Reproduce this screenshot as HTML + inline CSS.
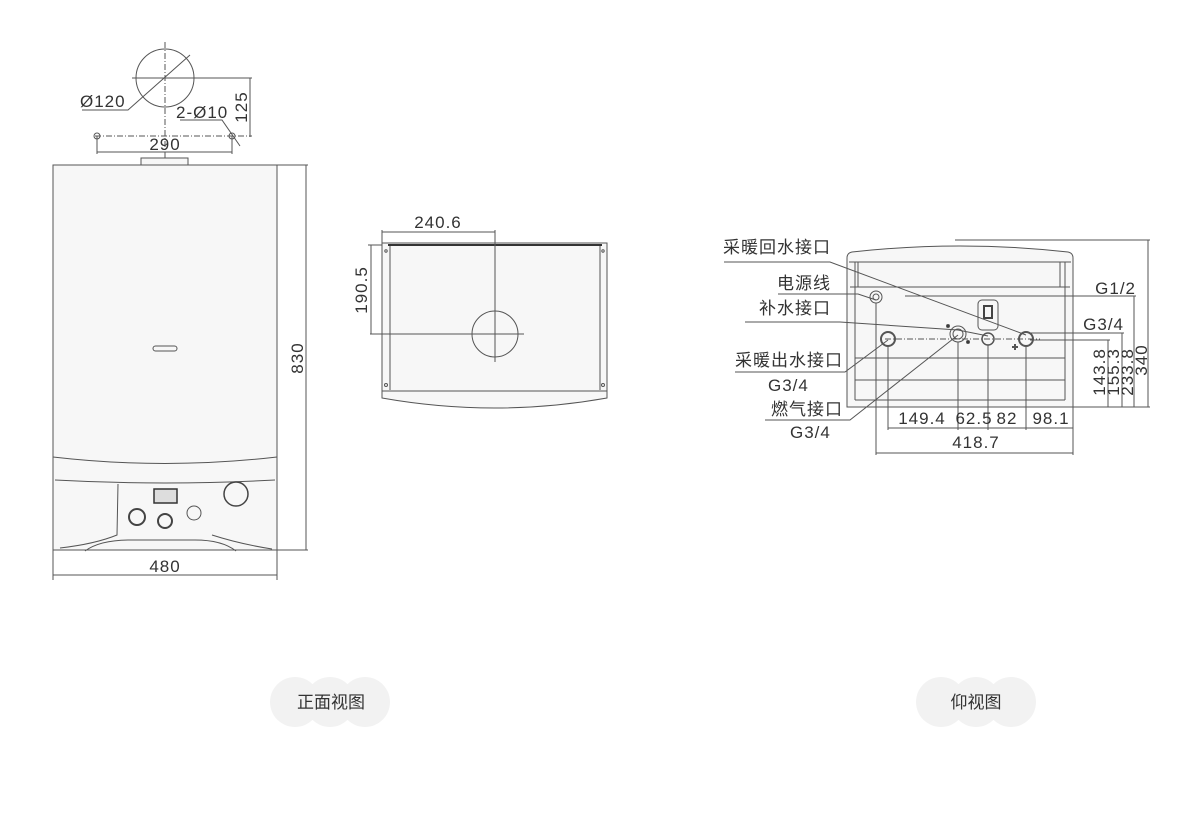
<!DOCTYPE html>
<html><head><meta charset="utf-8"><style>
html,body{margin:0;padding:0;background:#fff;}
svg{display:block}
text{font-family:"Liberation Sans","Noto Sans CJK SC",sans-serif;fill:#333;}
</style></head><body>
<svg width="1200" height="840" viewBox="0 0 1200 840" xmlns="http://www.w3.org/2000/svg">
<g stroke="#555" stroke-width="1" fill="none">
<circle cx="165" cy="78" r="29"/>
<line x1="165" y1="42" x2="165" y2="172" stroke-dasharray="6,2,1,2"/>
<line x1="132" y1="78" x2="252" y2="78"/>
<line x1="250" y1="78" x2="250" y2="137"/>
<line x1="95" y1="136" x2="252" y2="136" stroke-dasharray="6,2,1,2"/>
<circle cx="97" cy="136" r="3"/><circle cx="232" cy="136" r="3"/>
<line x1="97" y1="136" x2="97" y2="154"/><line x1="232" y1="136" x2="232" y2="154"/>
<line x1="97" y1="152" x2="232" y2="152"/>
<polyline points="82,110 128,110 190,55"/>
<polyline points="180,120 222,120 240,146"/>
<rect x="141" y="158" width="47" height="7" fill="#f7f7f7"/>
<rect x="53" y="165" width="224" height="385" fill="#f7f7f7"/>
<line x1="277" y1="165" x2="308" y2="165"/>
<line x1="277" y1="550" x2="308" y2="550"/>
<line x1="306" y1="165" x2="306" y2="550"/>
<rect x="153" y="346" width="24" height="5" rx="2.5"/>
<path d="M53,457 Q165,470 277,457"/>
<path d="M55,480 Q165,486 275,480"/>
<path d="M118,484 L117,535 Q95,544 60,548"/>
<path d="M212,535 Q240,544 272,549"/>
<path d="M85,551 Q100,540 130,540 L195,540 Q222,540 236,551"/>
<rect x="154" y="489" width="23" height="14" fill="#ddd" stroke="#333" stroke-width="1.5"/>
<circle cx="236" cy="494" r="12" stroke="#444" stroke-width="1.5"/>
<circle cx="137" cy="517" r="8" stroke="#444" stroke-width="2"/>
<circle cx="165" cy="521" r="7" stroke="#444" stroke-width="2"/>
<circle cx="194" cy="513" r="7"/>
<line x1="53" y1="550" x2="53" y2="580"/><line x1="277" y1="550" x2="277" y2="580"/>
<line x1="53" y1="575" x2="277" y2="575"/>
<rect x="382" y="243" width="225" height="148" fill="#f7f7f7"/>
<line x1="390" y1="245" x2="390" y2="390"/><line x1="600" y1="245" x2="600" y2="390"/>
<line x1="388" y1="245" x2="602" y2="245" stroke="#333" stroke-width="2"/>
<path d="M382,391 L382,398 Q495,418 607,398 L607,391 Z" fill="#f7f7f7"/>
<circle cx="495" cy="334" r="23"/>
<line x1="495" y1="230" x2="495" y2="362"/>
<line x1="370" y1="334" x2="524" y2="334"/>
<line x1="382" y1="230" x2="382" y2="243"/>
<line x1="382" y1="232" x2="495" y2="232"/>
<line x1="368" y1="245" x2="382" y2="245"/>
<line x1="371" y1="245" x2="371" y2="334"/>
<circle cx="386" cy="251" r="1.2"/><circle cx="603" cy="251" r="1.2"/>
<circle cx="386" cy="385" r="1.5"/><circle cx="603" cy="385" r="1.5"/>
<path d="M847,407 L847,258 Q847,253 852,252 Q960,240 1068,252 Q1073,253 1073,258 L1073,407 Z" fill="#f7f7f7"/>
<line x1="855" y1="262" x2="855" y2="400"/><line x1="1065" y1="262" x2="1065" y2="400"/>
<line x1="849" y1="262" x2="1071" y2="262"/>
<polyline points="858,262 858,287 1060,287 1060,262"/>
<line x1="850" y1="287" x2="858" y2="287"/><line x1="1060" y1="287" x2="1070" y2="287"/>
<line x1="855" y1="358" x2="1065" y2="358"/>
<line x1="855" y1="380" x2="1065" y2="380"/>
<line x1="855" y1="400" x2="1065" y2="400"/>
<rect x="978" y="300" width="20" height="30" rx="4"/>
<rect x="984" y="306" width="8" height="12" stroke="#444" stroke-width="2"/>
<line x1="885" y1="339" x2="1040" y2="339" stroke-dasharray="6,2,1,2"/>
<circle cx="876" cy="297" r="6"/><circle cx="876" cy="297" r="3"/>
<circle cx="888" cy="339" r="7" stroke-width="2"/>
<circle cx="958" cy="334" r="8"/><circle cx="958" cy="334" r="5"/>
<circle cx="988" cy="339" r="6" stroke-width="1.5"/>
<circle cx="1026" cy="339" r="7" stroke-width="2"/>
<path d="M1012,347 L1018,347 M1015,344 L1015,350" stroke-width="2"/>
<circle cx="948" cy="326" r="1.5" fill="#333"/><circle cx="968" cy="342" r="1.5" fill="#333"/>
<polyline points="724,262 830,262 1026,335"/>
<polyline points="778,294 858,294 876,300"/>
<polyline points="745,322 840,322 958,330 988,336"/>
<polyline points="735,372 845,372 888,340"/>
<polyline points="765,420 850,420 958,335"/>
<line x1="955" y1="240" x2="1150" y2="240"/>
<line x1="1148" y1="240" x2="1148" y2="407"/>
<line x1="905" y1="296" x2="1136" y2="296"/>
<line x1="1134" y1="296" x2="1134" y2="407"/>
<line x1="1030" y1="333" x2="1124" y2="333"/>
<line x1="1122" y1="333" x2="1122" y2="407"/>
<line x1="1030" y1="340" x2="1110" y2="340"/>
<line x1="1108" y1="340" x2="1108" y2="407"/>
<line x1="1073" y1="407" x2="1150" y2="407"/>
<line x1="876" y1="303" x2="876" y2="455"/>
<line x1="888" y1="346" x2="888" y2="430"/>
<line x1="958" y1="342" x2="958" y2="430"/>
<line x1="988" y1="345" x2="988" y2="430"/>
<line x1="1026" y1="346" x2="1026" y2="430"/>
<line x1="1073" y1="407" x2="1073" y2="455"/>
<line x1="888" y1="428" x2="1073" y2="428"/>
<line x1="876" y1="453" x2="1073" y2="453"/>
</g>
<g fill="#f2f2f2">
<circle cx="295" cy="702" r="25"/><circle cx="330" cy="702" r="25"/><circle cx="365" cy="702" r="25"/>
<circle cx="941" cy="702" r="25"/><circle cx="976" cy="702" r="25"/><circle cx="1011" cy="702" r="25"/>
</g>
<g font-size="17" letter-spacing="1">
<text x="80" y="107">Ø120</text>
<text x="176" y="118">2-Ø10</text>
<text x="165" y="150" text-anchor="middle">290</text>
<text transform="translate(247,107) rotate(-90)" text-anchor="middle">125</text>
<text x="165" y="572" text-anchor="middle">480</text>
<text transform="translate(303,358) rotate(-90)" text-anchor="middle">830</text>
<text x="438" y="228" text-anchor="middle">240.6</text>
<text transform="translate(367,290) rotate(-90)" text-anchor="middle">190.5</text>
<text x="831" y="253" text-anchor="end">采暖回水接口</text>
<text x="831" y="289" text-anchor="end">电源线</text>
<text x="831" y="314" text-anchor="end">补水接口</text>
<text x="843" y="366" text-anchor="end">采暖出水接口</text>
<text x="768" y="391">G3/4</text>
<text x="843" y="415" text-anchor="end">燃气接口</text>
<text x="790" y="438">G3/4</text>
<text x="1136" y="294" text-anchor="end">G1/2</text>
<text x="1124" y="330" text-anchor="end">G3/4</text>
<text transform="translate(1105,372) rotate(-90)" text-anchor="middle">143.8</text>
<text transform="translate(1119,372) rotate(-90)" text-anchor="middle">155.3</text>
<text transform="translate(1133,372) rotate(-90)" text-anchor="middle">233.8</text>
<text transform="translate(1147,360) rotate(-90)" text-anchor="middle">340</text>
<text x="922" y="424" text-anchor="middle">149.4</text>
<text x="974" y="424" text-anchor="middle">62.5</text>
<text x="1007" y="424" text-anchor="middle">82</text>
<text x="1051" y="424" text-anchor="middle">98.1</text>
<text x="976" y="448" text-anchor="middle">418.7</text>
<text x="331" y="708" text-anchor="middle" letter-spacing="0">正面视图</text>
<text x="976" y="708" text-anchor="middle" letter-spacing="0">仰视图</text>
</g>
</svg>
</body></html>
